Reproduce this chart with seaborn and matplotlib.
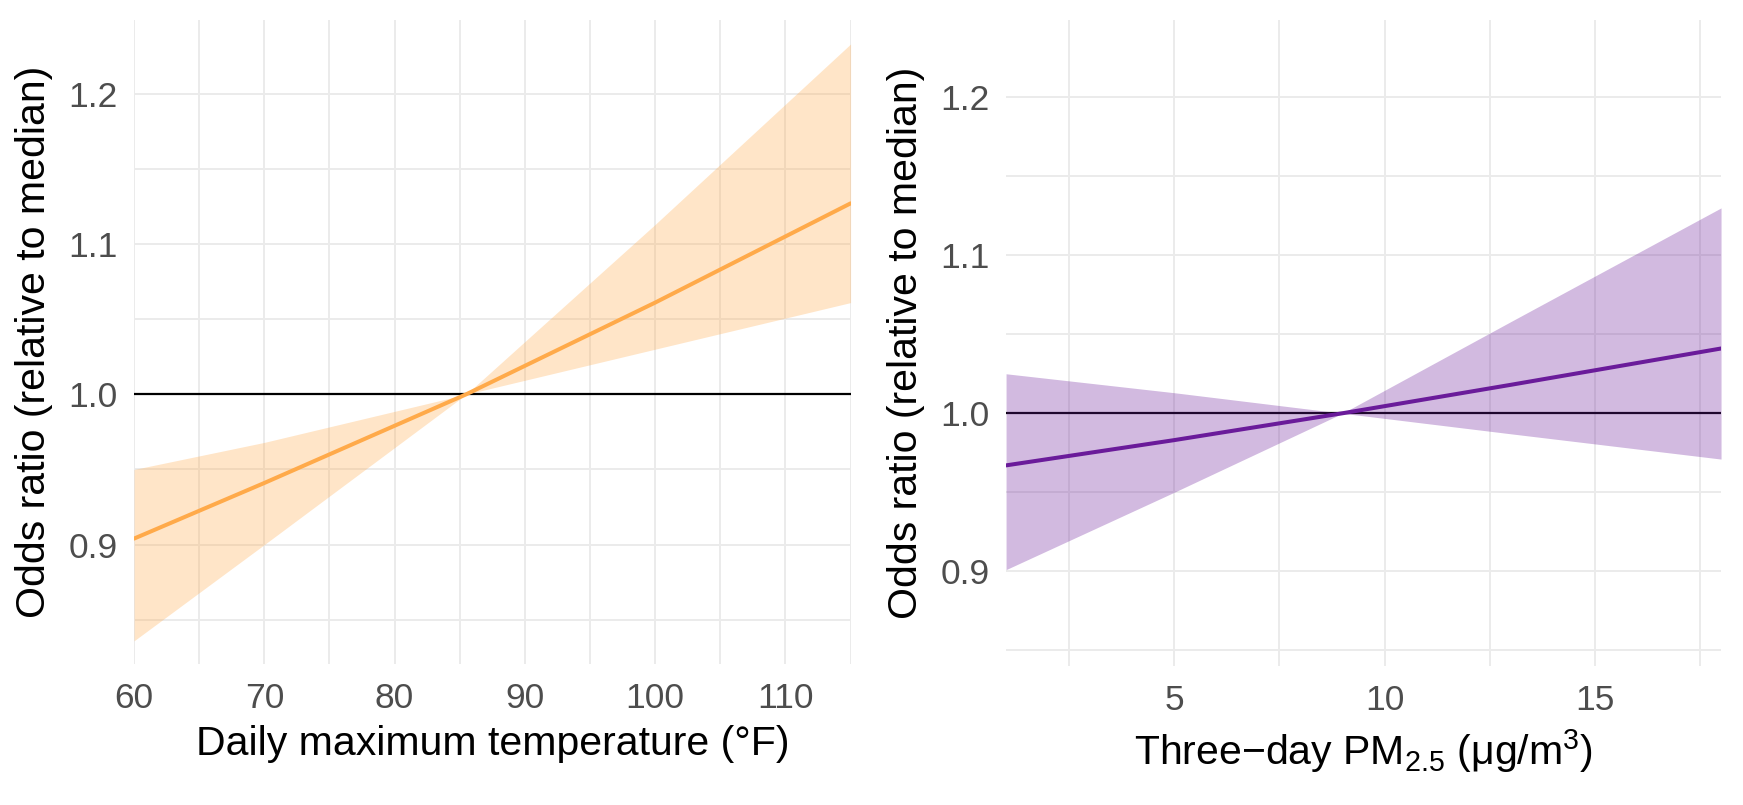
import matplotlib
matplotlib.use("Agg")
import matplotlib.pyplot as plt
import matplotlib.ticker as ticker
import seaborn as sns
import pandas as pd

# Left panel: daily maximum temperature
temp_x = [60, 70, 85.5, 100, 115]
temp_or = [0.904, 0.941, 1.0, 1.061, 1.127]
temp_lo = [0.836, 0.900, 1.0, 1.030, 1.061]
temp_hi = [0.950, 0.968, 1.0, 1.113, 1.233]

# Right panel: three-day PM2.5
pm_x = [1, 5, 9, 13, 18]
pm_or = [0.967, 0.983, 1.0, 1.018, 1.041]
pm_lo = [0.901, 0.950, 1.0, 0.987, 0.971]
pm_hi = [1.025, 1.013, 1.0, 1.058, 1.130]

orange = "#FFAA4A"
purple = "#6A1B9A"
grid_col = "#EBEBEB"

sns.set_theme(style="whitegrid")
plt.rcParams["font.family"] = ["Liberation Sans", "DejaVu Sans"]
plt.rcParams["mathtext.fontset"] = "custom"
plt.rcParams["mathtext.rm"] = "Liberation Sans"
plt.rcParams["mathtext.it"] = "Liberation Sans:italic"
plt.rcParams["mathtext.default"] = "regular"

fig = plt.figure(figsize=(17.43, 8.05), dpi=100)
ax1 = fig.add_axes([0.0769, 0.1748, 0.4111, 0.8004])
ax2 = fig.add_axes([0.5772, 0.1727, 0.4102, 0.8025])


def draw_panel(ax, x, y, lo, hi, color, xlim, ylim, xmajor, xlabel):
    df = pd.DataFrame({"x": x, "y": y})
    ax.axhline(1.0, color="black", lw=1.6, zorder=1)
    ax.fill_between(x, lo, hi, color=color, alpha=0.3, lw=0, zorder=2)
    sns.lineplot(data=df, x="x", y="y", color=color, lw=2.9, ax=ax, zorder=3)
    ax.set_xlim(*xlim)
    ax.set_ylim(*ylim)
    ax.xaxis.set_major_locator(ticker.MultipleLocator(xmajor))
    ax.xaxis.set_minor_locator(ticker.MultipleLocator(xmajor / 2))
    ax.yaxis.set_major_locator(ticker.FixedLocator([0.9, 1.0, 1.1, 1.2]))
    ax.yaxis.set_minor_locator(ticker.FixedLocator([0.85, 0.95, 1.05, 1.15]))
    ax.yaxis.set_major_formatter(ticker.FormatStrFormatter("%.1f"))
    ax.grid(which="both", color=grid_col, lw=1.4)
    ax.set_axisbelow(True)
    for s in ax.spines.values():
        s.set_visible(False)
    ax.tick_params(which="both", length=0, labelsize=25.5, labelcolor="#4D4D4D")
    ax.tick_params(axis="x", pad=13)
    ax.tick_params(axis="y", pad=12)
    ax.set_xlabel(xlabel, fontsize=29.5, color="black", labelpad=7)
    ax.set_ylabel("Odds ratio (relative to median)", fontsize=29.5, color="black", labelpad=11)


draw_panel(ax1, temp_x, temp_or, temp_lo, temp_hi, orange, (60, 115), (0.8204, 1.249), 10,
           "Daily maximum temperature (°F)")
draw_panel(ax2, pm_x, pm_or, pm_lo, pm_hi, purple, (1, 18), (0.84, 1.249), 5,
           "Three\u2212day PM$_{2.5}$ (μg/m$^3$)")

fig.savefig("out.png", dpi=100)
